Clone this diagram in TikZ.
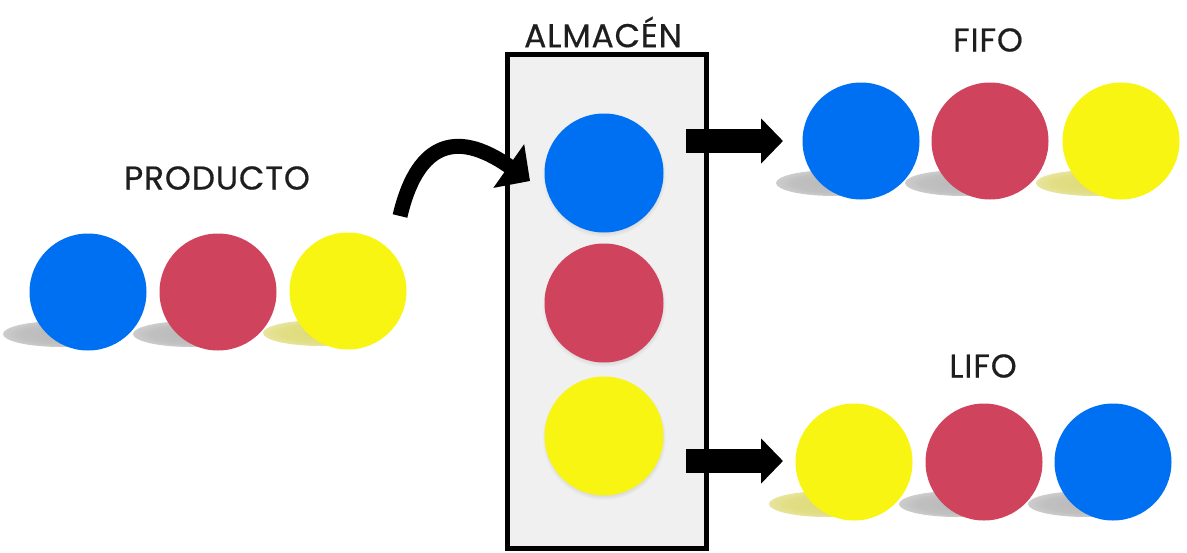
\documentclass[tikz,border=0pt]{standalone}
\usepackage{fontspec}
\setmainfont{Poppins}
\newfontfamily\labelfont[LetterSpace=2.5, FakeBold=0.5]{Poppins}
\usetikzlibrary{arrows.meta,shadows,backgrounds}

\definecolor{ballblue}{RGB}{0,112,242}
\definecolor{ballred}{RGB}{207,67,92}
\definecolor{ballyellow}{RGB}{247,245,17}
\definecolor{storefill}{RGB}{240,240,240}
\definecolor{labelgray}{RGB}{30,30,30}
\definecolor{shadowgrey}{RGB}{185,185,185}
\definecolor{shadowyellow}{RGB}{222,218,120}

% soft floor shadows under the balls
\pgfdeclareradialshading{greyshadow}{\pgfpoint{0bp}{0bp}}{color(0bp)=(shadowgrey); color(18bp)=(shadowgrey!90!white); color(36bp)=(shadowgrey!45!white); color(50bp)=(white)}
\pgfdeclareradialshading{yellowshadow}{\pgfpoint{0bp}{0bp}}{color(0bp)=(shadowyellow); color(18bp)=(shadowyellow!90!white); color(36bp)=(shadowyellow!45!white); color(50bp)=(white)}

\tikzset{
  ball/.style={circle, minimum size=117pt, inner sep=0pt, fill=#1},
  storeball/.style={ball=#1, minimum size=119pt,
    circular drop shadow={shadow xshift=0pt, shadow yshift=-2pt, shadow scale=1.04, opacity=0.35}},
  title/.style={text=labelgray, font=\labelfont\fontsize{33}{33}\selectfont, inner sep=0pt},
  storebox/.style={draw=black, line width=5pt, fill=storefill, inner sep=0pt,
    minimum width=199pt, minimum height=494pt},
  bigarrow/.style={line width=24pt, -{Triangle[length=22pt, width=44pt]}},
  bendarrow/.style={line width=15pt, -{Triangle[length=26pt, width=52pt]}},
}

\newcommand{\floorshadow}[2]{%
  \shade[shading=#2] ([xshift=-27pt, yshift=-42pt]#1.center) ellipse [x radius=58pt, y radius=13pt];}

\begin{document}
\begin{tikzpicture}[x=1pt, y=-1pt]
  \useasboundingbox (0,0) rectangle (1187,552);

  % incoming products
  \node[title] (producto) at (217,178) {PRODUCTO};
  \node[ball=ballblue]   (p1) at (88,292)  {};
  \node[ball=ballred]    (p2) at (218,292) {};
  \node[ball=ballyellow] (p3) at (348,291) {};

  % warehouse
  \node[title] (almacen) at (603,32) {ALMACÉN};
  \node[storebox] (store) at (606.5,301) {};
  \node[storeball=ballblue]   (s1) at (604,173) {};
  \node[storeball=ballred]    (s2) at (604,303) {};
  \node[storeball=ballyellow] (s3) at (604,436) {};

  % FIFO output
  \node[title] (fifo) at (988,40) {FIFO};
  \node[ball=ballblue]   (f1) at (861,141)  {};
  \node[ball=ballred]    (f2) at (990,141)  {};
  \node[ball=ballyellow] (f3) at (1121,141) {};

  % LIFO output
  \node[title] (lifo) at (983,366) {LIFO};
  \node[ball=ballyellow] (l1) at (854,462)  {};
  \node[ball=ballred]    (l2) at (984,462)  {};
  \node[ball=ballblue]   (l3) at (1113,462) {};

  \begin{scope}[on background layer]
    \floorshadow{p1}{greyshadow}
    \floorshadow{p2}{greyshadow}
    \floorshadow{p3}{yellowshadow}
    \floorshadow{f1}{greyshadow}
    \floorshadow{f2}{greyshadow}
    \floorshadow{f3}{yellowshadow}
    \floorshadow{l1}{yellowshadow}
    \floorshadow{l2}{greyshadow}
    \floorshadow{l3}{greyshadow}
  \end{scope}

  % arrows
  \coordinate (inStart) at (400,216);
  \coordinate (inEnd)   at (530,181);
  \draw[bendarrow] (inStart) .. controls (416,148) and (452,126) .. (inEnd);

  \coordinate (fifoStart) at (686,141);
  \coordinate (fifoEnd)   at (783,141);
  \draw[bigarrow] (fifoStart) -- (fifoEnd);

  \coordinate (lifoStart) at (686,461);
  \coordinate (lifoEnd)   at (783,461);
  \draw[bigarrow] (lifoStart) -- (lifoEnd);
\end{tikzpicture}
\end{document}
